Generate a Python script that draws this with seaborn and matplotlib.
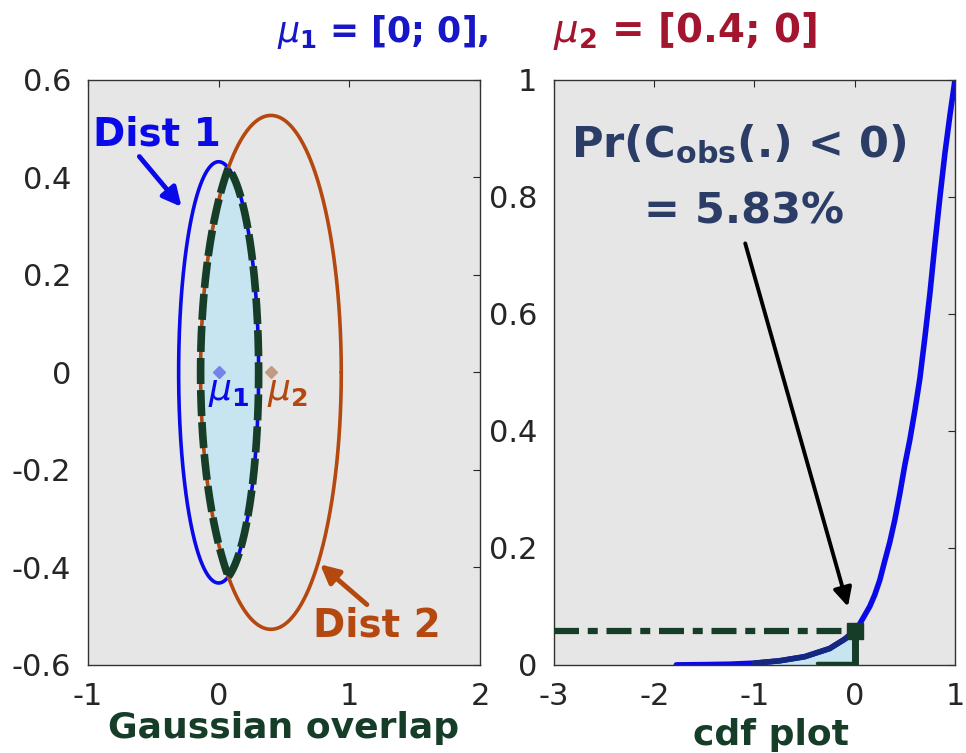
import numpy as np
import pandas as pd
import matplotlib
matplotlib.use("Agg")
import matplotlib.pyplot as plt
import seaborn as sns

# ---------------- data ----------------
mu1 = [0.0, 0.0]
mu2 = [0.4, 0.0]
semi1 = [0.306, 0.432]     # Dist 1 semi-axes (x, y)
semi2 = [0.538, 0.527]     # Dist 2 semi-axes (x, y)

cdf_x = [-1.78, -1.5, -1.25, -1.0, -0.75, -0.5, -0.25, -0.1, 0.0, 0.05, 0.1, 0.15,
         0.2, 0.25, 0.3, 0.35, 0.4, 0.45, 0.5, 0.55, 0.6, 0.65, 0.7, 0.75, 0.8,
         0.85, 0.9, 0.95, 1.0]
cdf_y = [0.0, 0.0005, 0.0012, 0.003, 0.007, 0.014, 0.028, 0.044, 0.0583, 0.07, 0.085,
         0.10, 0.12, 0.145, 0.178, 0.21, 0.248, 0.293, 0.342, 0.385, 0.435, 0.49,
         0.56, 0.635, 0.72, 0.80, 0.875, 0.94, 1.0]
p_obs_x = 0.0
p_obs = 0.0583

left_xticks = [-1, 0, 1, 2]
left_yticks = [-0.6, -0.4, -0.2, 0, 0.2, 0.4, 0.6]
left_yticklabels = ["-0.6", "-0.4", "-0.2", "0", "0.2", "0.4", "0.6"]
right_xticks = [-3, -2, -1, 0, 1]
right_yticks = [0, 0.2, 0.4, 0.6, 0.8, 1]
right_yticklabels = ["0", "0.2", "0.4", "0.6", "0.8", "1"]

# ---------------- style ----------------
BLUE = "#0a0ae8"
ORANGE = "#b4480f"
GREEN = "#163d28"
FILL = "#c6e5f0"
BG = "#e6e6e6"
NAVY = "#2b3d66"

sns.set_style("white", {"axes.facecolor": BG, "axes.edgecolor": "#333333"})
plt.rcParams["font.family"] = ["DejaVu Sans"]
plt.rcParams["mathtext.fontset"] = "dejavusans"

fig = plt.figure(figsize=(9.66, 7.53), dpi=100)
ax1 = fig.add_axes([0.091, 0.117, 0.406, 0.777])
ax2 = fig.add_axes([0.5735, 0.117, 0.4151, 0.777])

# ---------------- left: Gaussian overlap ----------------
t = np.linspace(0, 2 * np.pi, 600)
e1 = pd.DataFrame({"x": mu1[0] + semi1[0] * np.cos(t), "y": mu1[1] + semi1[1] * np.sin(t)})
e2 = pd.DataFrame({"x": mu2[0] + semi2[0] * np.cos(t), "y": mu2[1] + semi2[1] * np.sin(t)})

# intersection region of the two ellipses
yy = np.linspace(-min(semi1[1], semi2[1]), min(semi1[1], semi2[1]), 3001)
w1 = semi1[0] * np.sqrt(np.clip(1 - ((yy - mu1[1]) / semi1[1]) ** 2, 0, None))
w2 = semi2[0] * np.sqrt(np.clip(1 - ((yy - mu2[1]) / semi2[1]) ** 2, 0, None))
xl = np.maximum(mu1[0] - w1, mu2[0] - w2)
xr = np.minimum(mu1[0] + w1, mu2[0] + w2)
m = xl <= xr
px = np.concatenate([xr[m], xl[m][::-1], [xr[m][0]]])
py = np.concatenate([yy[m], yy[m][::-1], [yy[m][0]]])

ax1.fill(px, py, color=FILL, zorder=1)
sns.lineplot(data=e1, x="x", y="y", sort=False, estimator=None, color=BLUE, lw=2.6, ax=ax1, zorder=2)
sns.lineplot(data=e2, x="x", y="y", sort=False, estimator=None, color=ORANGE, lw=2.6, ax=ax1, zorder=2)
ax1.plot(px, py, color=GREEN, lw=5.5, dashes=(3.4, 0.8), zorder=3)

ax1.plot([mu1[0]], [mu1[1]], marker="D", ms=6, color="#7383ea", ls="none", zorder=4)
ax1.plot([mu2[0]], [mu2[1]], marker="D", ms=6, color="#c39a80", ls="none", zorder=4)
ax1.text(mu1[0] - 0.08, mu1[1] - 0.005, r"$\mu_{\mathbf{1}}$", color=BLUE, fontsize=26,
         ha="left", va="top", zorder=5)
ax1.text(mu2[0] - 0.03, mu2[1] - 0.005, r"$\mu_{\mathbf{2}}$", color=ORANGE, fontsize=26,
         ha="left", va="top", zorder=5)

ax1.text(-0.47, 0.487, "Dist 1", color=BLUE, fontsize=28, fontweight="bold", ha="center", va="center")
ax1.annotate("", xy=(-0.27, 0.335), xytext=(-0.62, 0.447),
             arrowprops=dict(arrowstyle="-|>", color=BLUE, lw=3.5, mutation_scale=28))
ax1.text(1.21, -0.52, "Dist 2", color=ORANGE, fontsize=28, fontweight="bold", ha="center", va="center")
ax1.annotate("", xy=(0.76, -0.39), xytext=(1.15, -0.48),
             arrowprops=dict(arrowstyle="-|>", color=ORANGE, lw=3.5, mutation_scale=28))

ax1.set_xlim(-1, 2)
ax1.set_ylim(-0.6, 0.6)
ax1.set_xticks(left_xticks)
ax1.set_xticklabels([str(v) for v in left_xticks])
ax1.set_yticks(left_yticks)
ax1.set_yticklabels(left_yticklabels)
ax1.set_xlabel("Gaussian overlap", fontsize=26, fontweight="bold", color=GREEN, labelpad=0)
ax1.set_ylabel("")

# ---------------- right: cdf plot ----------------
cdf = pd.DataFrame({"x": cdf_x, "y": cdf_y})
low = cdf[cdf["x"] <= p_obs_x]
ax2.fill_between(low["x"], 0, low["y"], color=FILL, zorder=1)
sns.lineplot(data=cdf, x="x", y="y", sort=False, estimator=None, color=BLUE, lw=4, ax=ax2, zorder=2)
mid = cdf[(cdf["x"] >= -1.0) & (cdf["x"] <= p_obs_x)]
sns.lineplot(data=mid, x="x", y="y", sort=False, estimator=None, color="#14287e", lw=4, ax=ax2, zorder=3)

ax2.plot([-3, p_obs_x], [p_obs, p_obs], color=GREEN, lw=4.5, dashes=(4, 1.4, 1.6, 1.4), zorder=4)
ax2.plot([p_obs_x, p_obs_x], [p_obs, -0.005], color=GREEN, lw=5, zorder=4)
ax2.plot([-0.38, p_obs_x], [0.003, 0.003], color=GREEN, lw=2.5, zorder=4)
ax2.plot([p_obs_x], [p_obs], marker="s", ms=12, color=GREEN, ls="none", zorder=5)

ax2.text(-1.16, 0.89, "Pr(C$_{\\mathbf{obs}}$(.) < 0)", color=NAVY, fontsize=31,
         fontweight="bold", ha="center", va="center")
ax2.text(-1.1, 0.775, "= 5.83%", color=NAVY, fontsize=31,
         fontweight="bold", ha="center", va="center")
ax2.annotate("", xy=(-0.06, 0.095), xytext=(-1.1, 0.725),
             arrowprops=dict(arrowstyle="-|>", color="black", lw=2.8, mutation_scale=28))

ax2.set_xlim(-3, 1)
ax2.set_ylim(0, 1)
ax2.set_xticks(right_xticks)
ax2.set_xticklabels([str(v) for v in right_xticks])
ax2.set_yticks(right_yticks)
ax2.set_yticklabels(right_yticklabels)
ax2.set_xlabel("cdf plot", fontsize=26, fontweight="bold", color=GREEN, labelpad=0)
ax2.xaxis.set_label_coords(0.54, -0.09)
ax2.set_ylabel("")

for ax in (ax1, ax2):
    ax.tick_params(direction="in", top=True, right=True, length=5, width=0.8,
                   labelsize=22, pad=12, colors="#262626")
    for s in ax.spines.values():
        s.set_visible(True)
        s.set_linewidth(1.0)
        s.set_color("#333333")
    ax.grid(False)

# ---------------- title ----------------
fig.text(0.287, 0.944, r"$\mu_{\mathbf{1}}$ = [0; 0],", color="#1717c8", fontsize=25,
         fontweight="bold", ha="left", va="baseline")
fig.text(0.572, 0.944, r"$\mu_{\mathbf{2}}$ = [0.4; 0]", color="#a3152f", fontsize=28,
         fontweight="bold", ha="left", va="baseline")

fig.savefig("out.png", dpi=100, facecolor="white")
